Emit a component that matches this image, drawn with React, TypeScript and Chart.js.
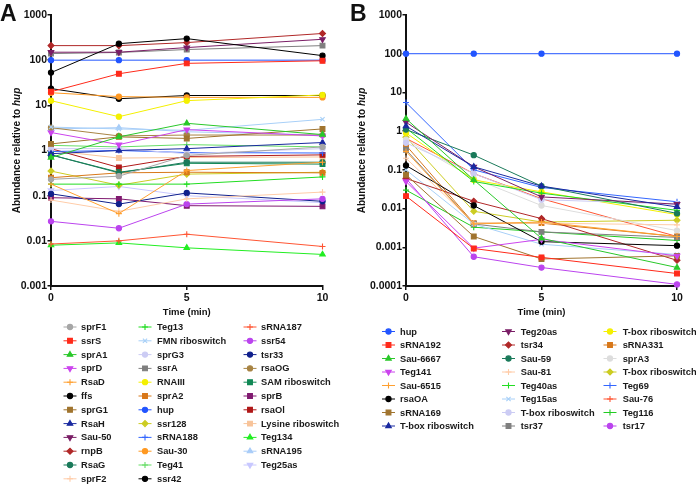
import React, { useEffect, useRef } from 'react';
import { Chart, registerables } from 'chart.js';
import { drawPoint } from 'chart.js/helpers';

Chart.register(...registerables);

// ---------- shared axis data ----------
const timesMin = [0, 2.5, 5, 10];
const xTicks = [0, 5, 10];
const yTicksA = [0.001, 0.01, 0.1, 1, 10, 100, 1000];
const yTicksB = [0.0001, 0.001, 0.01, 0.1, 1, 10, 100, 1000];

// ---------- Panel A ----------
const namesA = [
  'sprF1', 'ssrS', 'sprA1', 'sprD', 'RsaD', 'ffs', 'sprG1', 'RsaH', 'Sau-50', 'rnpB', 'RsaG', 'sprF2',
  'Teg13', 'FMN riboswitch', 'sprG3', 'ssrA', 'RNAIII', 'sprA2', 'hup', 'ssr128', 'sRNA188', 'Sau-30', 'Teg41', 'ssr42',
  'sRNA187', 'ssr54', 'tsr33', 'rsaOG', 'SAM riboswitch', 'sprB', 'rsaOl', 'Lysine riboswitch', 'Teg134', 'sRNA195', 'Teg25as',
];
const a_sprF1 = [0.23, 0.27, 0.78, 1.2];
const a_ssrS = [20, 50, 85, 97];
const a_sprA1 = [0.7, 2.0, 4.0, 2.25];
const a_sprD = [2.5, 1.35, 2.9, 2.1];
const a_RsaD = [0.18, 0.04, 0.36, 0.55];
const a_ffs = [53, 232, 300, 126];
const a_sprG1 = [1.4, 2.0, 1.85, 3.0];
const a_RsaH = [0.85, 1.0, 1.1, 1.5];
const a_Sau50 = [150, 150, 190, 290];
const a_rnpB = [210, 210, 245, 390];
const a_RsaG = [0.8, 0.32, 0.55, 0.55];
const a_sprF2 = [0.08, 0.045, 0.085, 0.12];
const a_Teg13 = [0.18, 0.18, 0.18, 0.26];
const a_FMN = [3.3, 3.0, 2.8, 4.9];
const a_sprG3 = [1.1, 1.1, 0.85, 1.1];
const a_ssrA = [140, 148, 172, 210];
const a_RNAIII = [12.7, 5.6, 12.7, 17];
const a_sprA2 = [0.25, 0.32, 0.33, 0.32];
const a_hup = [100, 100, 100, 100];
const a_ssr128 = [0.35, 0.17, 0.3, 0.33];
const a_sRNA188 = [0.95, 1.0, 0.9, 0.88];
const a_Sau30 = [19, 15.6, 15, 15];
const a_Teg41 = [1.3, 1.2, 1.35, 1.2];
const a_ssr42 = [23.5, 14, 16.5, 16.5];
const a_sRNA187 = [0.0085, 0.01, 0.014, 0.0075];
const a_ssr54 = [0.027, 0.019, 0.065, 0.085];
const a_tsr33 = [0.11, 0.065, 0.115, 0.075];
const a_rsaOG = [3.2, 2.1, 2.2, 2.2];
const a_SAM = [0.8, 0.33, 0.52, 0.5];
const a_sprB = [0.09, 0.085, 0.06, 0.058];
const a_rsaOl = [1.1, 0.42, 0.74, 0.8];
const a_Lysine = [1.0, 0.68, 0.7, 0.72];
const a_Teg134 = [0.008, 0.009, 0.007, 0.005];
const a_sRNA195 = [3.0, 3.2, 2.6, 2.2];
const a_Teg25as = [0.13, 0.16, 0.1, 0.07];
const valuesA = [
  a_sprF1, a_ssrS, a_sprA1, a_sprD, a_RsaD, a_ffs, a_sprG1, a_RsaH, a_Sau50, a_rnpB, a_RsaG, a_sprF2,
  a_Teg13, a_FMN, a_sprG3, a_ssrA, a_RNAIII, a_sprA2, a_hup, a_ssr128, a_sRNA188, a_Sau30, a_Teg41, a_ssr42,
  a_sRNA187, a_ssr54, a_tsr33, a_rsaOG, a_SAM, a_sprB, a_rsaOl, a_Lysine, a_Teg134, a_sRNA195, a_Teg25as,
];
const colorsA = [
  '#a6a6a6', '#ff2a1a', '#2ac82a', '#cc44ee', '#ffa030', '#000000', '#a0742e', '#1a2aa0', '#7a1e66', '#b02828', '#1a7a5a', '#ffcca8',
  '#22dd22', '#a8d0f8', '#ccccf4', '#7f7f7f', '#f4f000', '#d8781a', '#2255ff', '#cccc22', '#3366ff', '#ff9922', '#66dd66', '#000000',
  '#ff5533', '#bb44ee', '#10208c', '#a88444', '#118855', '#801a70', '#b01818', '#f8c49a', '#22ee22', '#a8ccf8', '#c8c8ff',
];
const markersA = [
  'circle', 'square', 'triangle', 'triangleDown', 'plus', 'circle', 'square', 'triangle', 'triangleDown', 'diamond', 'circle', 'plus',
  'plus', 'x', 'circle', 'square', 'circle', 'square', 'circle', 'diamond', 'plus', 'circle', 'plus', 'circle',
  'plus', 'circle', 'circle', 'circle', 'square', 'square', 'square', 'square', 'triangle', 'triangle', 'triangleDown',
];

// ---------- Panel B ----------
const namesB = [
  'hup', 'sRNA192', 'Sau-6667', 'Teg141', 'Sau-6515', 'rsaOA', 'sRNA169', 'T-box riboswitch',
  'Teg20as', 'tsr34', 'Sau-59', 'Sau-81', 'Teg40as', 'Teg15as', 'T-box riboswitch', 'tsr37',
  'T-box riboswitch', 'sRNA331', 'sprA3', 'T-box riboswitch', 'Teg69', 'Sau-76', 'Teg116', 'tsr17',
];
const b_hup = [100, 100, 100, 100];
const b_sRNA192 = [0.021, 0.00093, 0.00055, 0.00021];
const b_Sau6667 = [2.1, 0.055, 0.0017, 0.0003];
const b_Teg141 = [0.05, 0.00095, 0.0016, 0.0006];
const b_Sau6515 = [0.3, 0.004, 0.0045, 0.0019];
const b_rsaOA = [0.13, 0.012, 0.0014, 0.0011];
const b_sRNA169 = [0.075, 0.0019, 0.0005, 0.0006];
const b_Tbox1 = [1.35, 0.12, 0.038, 0.011];
const b_Teg20as = [1.7, 0.12, 0.02, 0.013];
const b_tsr34 = [0.06, 0.0155, 0.0055, 0.00046];
const b_Sau59 = [1.1, 0.24, 0.038, 0.0075];
const b_Sau81 = [0.2, 0.0042, 0.0042, 0.0038];
const b_Teg40as = [1.2, 0.05, 0.025, 0.009];
const b_Teg15as = [0.1, 0.004, 0.0012, 0.00065];
const b_Tbox2 = [0.5, 0.08, 0.017, 0.013];
const b_tsr37 = [0.33, 0.004, 0.0025, 0.0018];
const b_Tbox3 = [0.9, 0.055, 0.027, 0.007];
const b_sRNA331 = [0.43, 0.0042, 0.0042, 0.0019];
const b_sprA3 = [0.6, 0.06, 0.012, 0.0027];
const b_Tbox4 = [0.7, 0.0085, 0.0045, 0.005];
const b_Teg69 = [5.5, 0.1, 0.035, 0.015];
const b_Sau76 = [0.65, 0.08, 0.018, 0.0019];
const b_Teg116 = [0.03, 0.0033, 0.0025, 0.0015];
const b_tsr17 = [0.06, 0.00057, 0.0003, 0.00011];
const valuesB = [
  b_hup, b_sRNA192, b_Sau6667, b_Teg141, b_Sau6515, b_rsaOA, b_sRNA169, b_Tbox1,
  b_Teg20as, b_tsr34, b_Sau59, b_Sau81, b_Teg40as, b_Teg15as, b_Tbox2, b_tsr37,
  b_Tbox3, b_sRNA331, b_sprA3, b_Tbox4, b_Teg69, b_Sau76, b_Teg116, b_tsr17,
];
const colorsB = [
  '#2255ff', '#ff2a1a', '#2ac82a', '#cc44ee', '#ffa030', '#000000', '#a0742e', '#1a2aa0',
  '#7a1e66', '#b02828', '#1a7a5a', '#ffcca8', '#22dd22', '#a8d0f8', '#ccccf4', '#7f7f7f',
  '#f4f000', '#d8781a', '#dddddd', '#cccc22', '#3366ff', '#ff5533', '#22cc22', '#bb44ee',
];
const markersB = [
  'circle', 'square', 'triangle', 'triangleDown', 'plus', 'circle', 'square', 'triangle',
  'triangleDown', 'diamond', 'circle', 'plus', 'plus', 'x', 'circle', 'square',
  'circle', 'square', 'circle', 'diamond', 'plus', 'plus', 'plus', 'circle',
];

const FONT = "'Liberation Sans', Arial, Helvetica, sans-serif";

function markerOpts(m: string) {
  switch (m) {
    case 'square': return { style: 'rect', rotation: 0, radius: 3.4 };
    case 'triangle': return { style: 'triangle', rotation: 0, radius: 3.2 };
    case 'triangleDown': return { style: 'triangle', rotation: 180, radius: 3.2 };
    case 'plus': return { style: 'cross', rotation: 0, radius: 3.0 };
    case 'x': return { style: 'crossRot', rotation: 0, radius: 3.0 };
    case 'diamond': return { style: 'rectRot', rotation: 0, radius: 3.0 };
    default: return { style: 'circle', rotation: 0, radius: 2.6 };
  }
}

type PanelProps = {
  letter: string;
  names: string[];
  values: number[][];
  colors: string[];
  markers: string[];
  yTicks: number[];
  yWidth: number;
  padRight: number;
  left: number;
  legendRows: number;
  legendY0: number;
  legendDy: number;
  legendMarkerX: number[];
  legendTextX: number[];
  yTitleX: number;
  letterX: number;
};

function Panel(p: PanelProps) {
  const ref = useRef<HTMLCanvasElement | null>(null);
  useEffect(() => {
    const canvas = ref.current;
    if (!canvas) return;
    const datasets = p.names.map((name, i) => {
      const mk = markerOpts(p.markers[i]);
      return {
        label: name,
        data: timesMin.map((t, j) => ({ x: t, y: p.values[i][j] })),
        borderColor: p.colors[i],
        backgroundColor: p.colors[i],
        borderWidth: 1,
        pointStyle: mk.style as any,
        pointRotation: mk.rotation,
        pointRadius: mk.radius,
        pointBorderWidth: 1.1,
        pointBackgroundColor: p.colors[i],
        pointBorderColor: p.colors[i],
        clip: false as any,
        tension: 0,
      };
    });

    const decor = {
      id: 'decor',
      afterDraw(chart: any) {
        const ctx = chart.ctx as CanvasRenderingContext2D;
        const ca = chart.chartArea;
        ctx.save();
        // panel letter
        ctx.fillStyle = '#111';
        ctx.font = `bold 23px ${FONT}`;
        ctx.textAlign = 'left';
        ctx.textBaseline = 'alphabetic';
        ctx.fillText(p.letter, p.letterX, 20.7);

        // y title with italic "hup"
        const part1 = 'Abundance relative to ';
        const part2 = 'hup';
        ctx.save();
        ctx.translate(p.yTitleX, (ca.top + ca.bottom) / 2);
        ctx.rotate(-Math.PI / 2);
        ctx.textBaseline = 'middle';
        ctx.font = `bold 10px ${FONT}`;
        const w1 = ctx.measureText(part1).width;
        ctx.font = `italic bold 10px ${FONT}`;
        const w2 = ctx.measureText(part2).width;
        const sx = -(w1 + w2) / 2;
        ctx.font = `bold 10px ${FONT}`;
        ctx.fillText(part1, sx, 0);
        ctx.font = `italic bold 10px ${FONT}`;
        ctx.fillText(part2, sx + w1, 0);
        ctx.restore();

        // x title
        ctx.font = `bold 9.5px ${FONT}`;
        ctx.textAlign = 'center';
        ctx.textBaseline = 'middle';
        ctx.fillText('Time (min)', (ca.left + ca.right) / 2, 312);

        // legend
        p.names.forEach((name, i) => {
          const col = Math.floor(i / p.legendRows);
          const row = i % p.legendRows;
          const y = p.legendY0 + row * p.legendDy;
          const mx = p.legendMarkerX[col];
          const tx = p.legendTextX[col];
          const c = p.colors[i];
          const mk = markerOpts(p.markers[i]);
          ctx.strokeStyle = c;
          ctx.lineWidth = 1;
          ctx.beginPath();
          ctx.moveTo(mx - 6.5, y);
          ctx.lineTo(mx + 6.5, y);
          ctx.stroke();
          ctx.fillStyle = c;
          ctx.lineWidth = 1.1;
          drawPoint(ctx, { pointStyle: mk.style as any, rotation: mk.rotation, radius: mk.radius, borderWidth: 1.1 }, mx, y);
          ctx.fillStyle = '#1a1a1a';
          ctx.font = `bold 9.3px ${FONT}`;
          ctx.textAlign = 'left';
          ctx.textBaseline = 'middle';
          ctx.fillText(name, tx, y + 0.5);
        });
        ctx.restore();
      },
    };

    const chart = new Chart(canvas, {
      type: 'line',
      data: { datasets },
      options: {
        animation: false,
        responsive: false,
        maintainAspectRatio: false,
        devicePixelRatio: 1,
        layout: { padding: { top: 15, right: p.padRight, left: 0, bottom: 0 } },
        plugins: { legend: { display: false }, tooltip: { enabled: false }, title: { display: false } },
        scales: {
          x: {
            type: 'linear',
            min: 0,
            max: 10,
            afterBuildTicks: (s: any) => { s.ticks = xTicks.map((v) => ({ value: v })); },
            afterFit: (s: any) => { s.height = 485 - 286; },
            grid: { display: true, drawOnChartArea: false, drawTicks: true, tickLength: 4, color: '#111', lineWidth: 1.5 },
            border: { display: true, color: '#111', width: 2 },
            ticks: { color: '#111', padding: 2, maxRotation: 0, font: { family: FONT, size: 10.5, weight: 'bold' } },
          },
          y: {
            type: 'logarithmic',
            min: p.yTicks[0],
            max: 1000,
            afterBuildTicks: (s: any) => { s.ticks = p.yTicks.map((v) => ({ value: v })); },
            afterFit: (s: any) => { s.width = p.yWidth; },
            grid: { display: true, drawOnChartArea: false, drawTicks: true, tickLength: 3.5, color: '#111', lineWidth: 1.5 },
            border: { display: true, color: '#111', width: 2 },
            ticks: {
              color: '#111',
              padding: 0.5,
              font: { family: FONT, size: 10.5, weight: 'bold' },
              callback: (v: any) => String(Number(v)),
            },
          },
        },
      } as any,
      plugins: [decor],
    });
    return () => chart.destroy();
  }, []);
  return (
    <canvas
      ref={ref}
      width={348}
      height={485}
      style={{ position: 'absolute', left: p.left, top: 0, width: 348, height: 485 }}
    />
  );
}

export default function App() {
  return (
    <div style={{ position: 'fixed', left: 0, top: 0, width: 696, height: 485, background: '#fff', overflow: 'hidden' }}>
      <Panel
        letter="A"
        names={namesA}
        values={valuesA}
        colors={colorsA}
        markers={markersA}
        yTicks={yTicksA}
        yWidth={51}
        padRight={25.5}
        left={0}
        legendRows={12}
        legendY0={327}
        legendDy={13.8}
        legendMarkerX={[70, 145, 250]}
        legendTextX={[81, 157, 261]}
        yTitleX={17}
        letterX={0}
      />
      <Panel
        letter="B"
        names={namesB}
        values={valuesB}
        colors={colorsB}
        markers={markersB}
        yTicks={yTicksB}
        yWidth={58}
        padRight={19}
        left={348}
        legendRows={8}
        legendY0={331.5}
        legendDy={13.5}
        legendMarkerX={[40.5, 160.5, 262]}
        legendTextX={[52, 172.7, 274.7]}
        yTitleX={14.5}
        letterX={2}
      />
    </div>
  );
}
